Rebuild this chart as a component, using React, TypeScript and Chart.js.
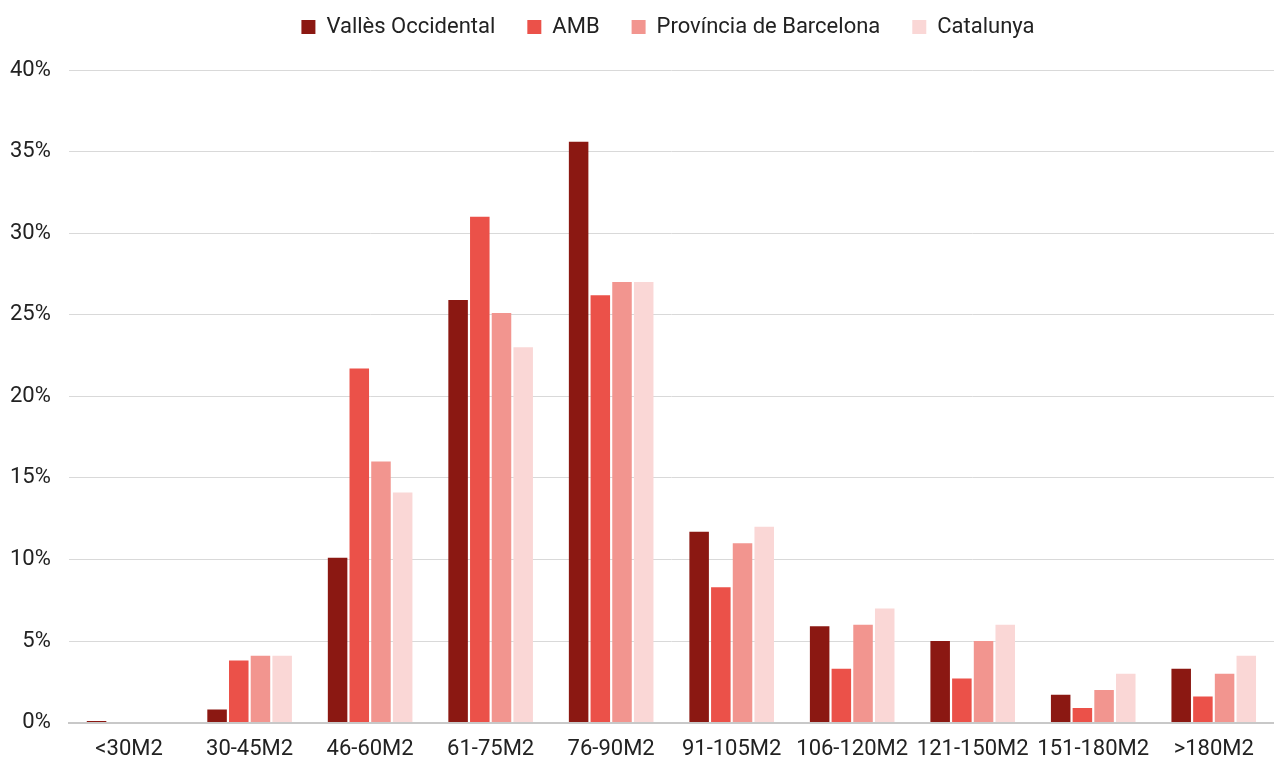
import React, { useEffect, useRef } from "react";
import { Chart, registerables } from "chart.js";

Chart.register(...registerables);

const categories = ["<30M2", "30-45M2", "46-60M2", "61-75M2", "76-90M2", "91-105M2", "106-120M2", "121-150M2", "151-180M2", ">180M2"];
const vallesOccidental = [0.1, 0.8, 10.1, 25.9, 35.6, 11.7, 5.9, 5.0, 1.7, 3.3];
const amb = [0, 3.8, 21.7, 31.0, 26.2, 8.3, 3.3, 2.7, 0.9, 1.6];
const provinciaBarcelona = [0, 4.1, 16.0, 25.1, 27.0, 11.0, 6.0, 5.0, 2.0, 3.0];
const catalunya = [0, 4.1, 14.1, 23.0, 27.0, 12.0, 7.0, 6.0, 3.0, 4.1];
const yTicks = [0, 5, 10, 15, 20, 25, 30, 35, 40];

const legendTweak = {
  id: "legendTweak",
  afterInit(chart: any) {
    const lg = chart.legend;
    if (lg && !lg.__tweaked) {
      const orig = lg.fit;
      lg.fit = function (this: any) {
        orig.call(this);
        this.height += 22;
      };
      lg.__tweaked = true;
    }
  },
  afterLayout(chart: any) {
    const lg = chart.legend;
    if (lg) {
      lg.left += 28;
      lg.right += 28;
    }
  },
};

export default function App() {
  const ref = useRef<HTMLCanvasElement>(null);
  useEffect(() => {
    const font = { family: "Roboto", size: 22 };
    const chart = new Chart(ref.current!, {
      type: "bar",
      data: {
        labels: categories,
        datasets: [
          { label: "Vallès Occidental", data: vallesOccidental, backgroundColor: "#8B1812" },
          { label: "AMB", data: amb, backgroundColor: "#EB5149" },
          { label: "Província de Barcelona", data: provinciaBarcelona, backgroundColor: "#F2958F" },
          { label: "Catalunya", data: catalunya, backgroundColor: "#FAD7D6" },
        ],
      },
      plugins: [legendTweak],
      options: {
        animation: false,
        responsive: false,
        maintainAspectRatio: false,
        layout: { padding: { left: -8, right: -14, top: -16, bottom: -17 } },
        datasets: { bar: { barPercentage: 0.9, categoryPercentage: 0.72 } },
        plugins: {
          legend: {
            position: "top",
            labels: { font, color: "#222", boxWidth: 14, boxHeight: 14, padding: 32 },
          },
          tooltip: { enabled: false },
        },
        scales: {
          x: {
            grid: { display: false, drawTicks: false },
            border: { color: "#c8c8c8", width: 2 },
            ticks: { font, color: "#222", padding: 14 },
          },
          y: {
            min: 0,
            max: 40,
            afterBuildTicks: (axis: any) => {
              axis.ticks = yTicks.map((v) => ({ value: v }));
            },
            grid: { color: "#d9d9d9", drawTicks: false },
            border: { display: false },
            ticks: { font, color: "#222", padding: 18, callback: (v: any) => v + "%" },
          },
        },
      },
    });
    return () => chart.destroy();
  }, []);
  return (
    <div style={{ position: "absolute", left: 0, top: 0, width: 1274, height: 760, background: "#fff" }}>
      <canvas ref={ref} width={1274} height={760} />
    </div>
  );
}
